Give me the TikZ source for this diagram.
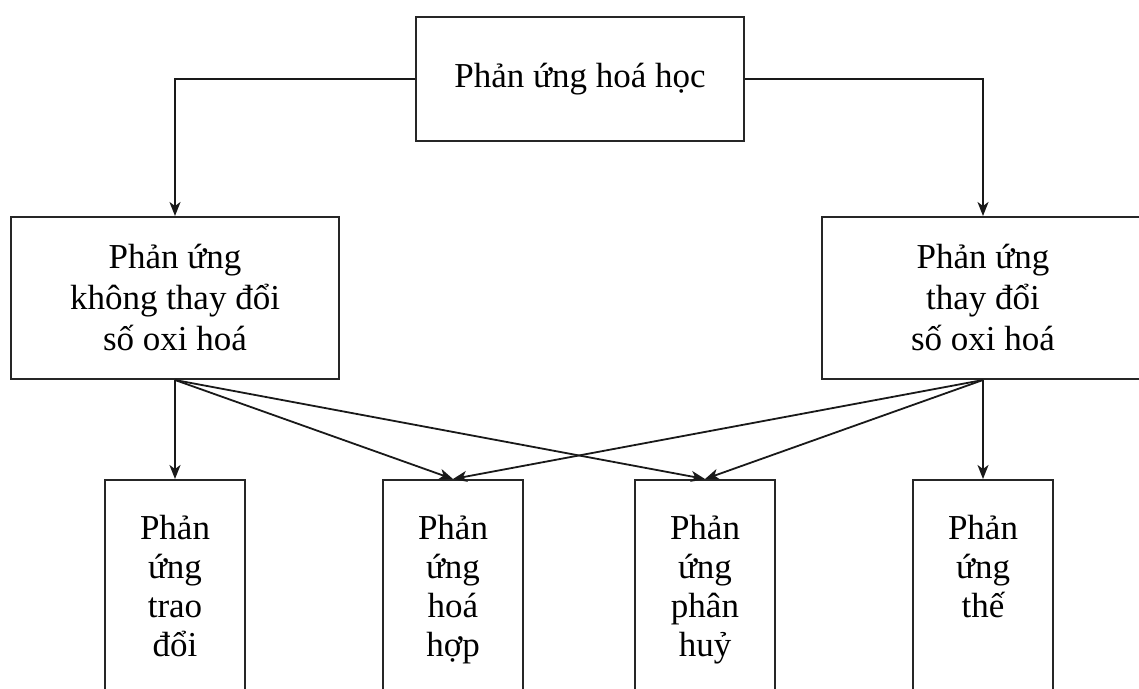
\documentclass[tikz,border=0pt]{standalone}
\usepackage{fontspec}
\setmainfont{Liberation Serif}
\usetikzlibrary{arrows.meta}
\usetikzlibrary{positioning}

\tikzset{
    hop/.style={draw=black!85, line width=1pt, align=center, inner sep=0pt,
        font=\fontsize{17.5}{20.5}\selectfont},
    chu/.style={align=center, inner sep=0pt, font=\fontsize{17.5}{19.5}\selectfont},
    muiten/.style={-{Stealth[length=7pt,width=5.5pt,inset=2pt]}, line width=0.9pt, black!90},
}

\begin{document}
\begin{tikzpicture}[x=0.5pt,y=-0.5pt]
        \useasboundingbox (0,0) rectangle (1139,689);
        \clip (0,0) rectangle (1139,689);
        % hang tren
        \node[hop,minimum width=164pt,minimum height=62pt] (pu) at (580,79) {Phản ứng hoá học};
        \node[hop,minimum width=164pt,minimum height=81pt] (khong) at (175,298) {Phản ứng\\không thay đổi\\số oxi hoá};
        \node[hop,minimum width=161pt,minimum height=81pt] (co) at (983,298) {Phản ứng\\thay đổi\\số oxi hoá};
        % hang duoi
        \node[hop,minimum width=70pt,minimum height=120pt,anchor=north] (b1) at (175,479) {};
        \node[hop,minimum width=70pt,minimum height=120pt,anchor=north] (b2) at (453,479) {};
        \node[hop,minimum width=70pt,minimum height=120pt,anchor=north] (b3) at (705,479) {};
        \node[hop,minimum width=70pt,minimum height=120pt,anchor=north] (b4) at (983,479) {};
        \node[chu,anchor=north] (t1) at ([yshift=-18pt]b1.north) {Phản\\ứng\\trao\\đổi};
        \node[chu,anchor=north] (t2) at ([yshift=-18pt]b2.north) {Phản\\ứng\\hoá\\hợp};
        \node[chu,anchor=north] (t3) at ([yshift=-18pt]b3.north) {Phản\\ứng\\phân\\huỷ};
        \node[chu,anchor=north] (t4) at ([yshift=-18pt]b4.north) {Phản\\ứng\\thế};
        % mui ten
        \draw[muiten] (pu.west) -| (khong.north);
        \draw[muiten] (pu.east) -| (co.north);
        \foreach \b in {b1,b2,b3}{
            \draw[muiten] (khong.south) -- (\b.north);
        }
        \foreach \b in {b4,b3,b2}{
            \draw[muiten] (co.south) -- (\b.north);
        }
    \end{tikzpicture}
\end{document}
